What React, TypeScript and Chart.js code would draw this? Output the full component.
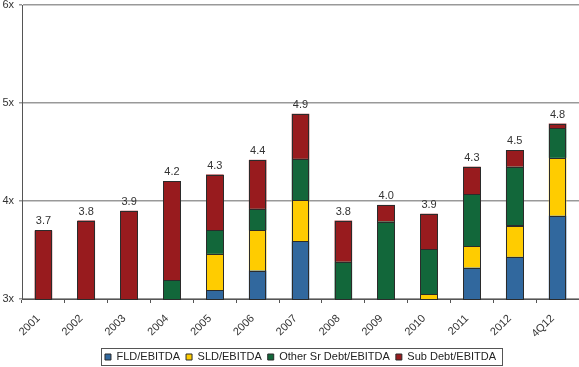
import React, { useEffect, useRef } from 'react';
import { Chart, registerables } from 'chart.js';

Chart.register(...registerables);

const categories = ['2001', '2002', '2003', '2004', '2005', '2006', '2007', '2008', '2009', '2010', '2011', '2012', '4Q12'];
const baseValues = [3, 3, 3, 3, 3, 3, 3, 3, 3, 3, 3, 3, 3];
const fldValues = [null, null, null, null, 0.09, 0.29, 0.59, null, null, null, 0.32, 0.43, 0.85];
const sldValues = [null, null, null, null, 0.37, 0.41, 0.42, null, null, 0.05, 0.22, 0.32, 0.59];
const otherSrValues = [null, null, null, 0.19, 0.24, 0.22, 0.42, 0.38, 0.79, 0.46, 0.53, 0.6, 0.3];
const subDebtValues = [0.7, 0.8, 0.9, 1.01, 0.57, 0.5, 0.46, 0.42, 0.17, 0.36, 0.28, 0.17, 0.05];
const totalLabels = ['3.7', '3.8', '3.9', '4.2', '4.3', '4.4', '4.9', '3.8', '4.0', '3.9', '4.3', '4.5', '4.8'];
const yTickLabels = ['3x', '4x', '5x', '6x'];

const FONT = "'Liberation Sans', Arial, sans-serif";
const OUTLINE = '#2b2b2b';

const legendShift = {
  id: 'legendShift',
  afterLayout(chart: any) {
    const lg = chart.legend;
    if (lg) {
      lg.top += 5.5;
      lg.bottom += 5.5;
    }
  },
};

const legendBorder = {
  id: 'legendBorder',
  afterDraw(chart: any) {
    const lg = chart.legend;
    if (!lg || !lg.legendHitBoxes || !lg.legendHitBoxes.length) return;
    const hb = lg.legendHitBoxes;
    const first = hb[0];
    const last = hb[hb.length - 1];
    const pad = lg.options.labels.padding;
    const cy = lg.top + pad + 5.5;
    const x0 = Math.round(first.left - 4) + 0.5;
    const x1 = Math.round(last.left + last.width + 6) + 0.5;
    const y0 = Math.round(cy - 9) + 0.5;
    const y1 = Math.round(cy + 8) + 0.5;
    const ctx = chart.ctx;
    ctx.save();
    ctx.strokeStyle = '#555';
    ctx.lineWidth = 1;
    ctx.strokeRect(x0, y0, x1 - x0, y1 - y0);
    ctx.restore();
  },
};

const outlines = {
  id: 'outlines',
  afterDatasetsDraw(chart: any) {
    const ctx = chart.ctx;
    const area = chart.chartArea;
    ctx.save();
    ctx.beginPath();
    ctx.rect(area.left, area.top - 2, area.right - area.left, area.bottom - area.top + 3);
    ctx.clip();
    ctx.strokeStyle = OUTLINE;
    ctx.lineWidth = 1;
    for (let d = 1; d < chart.data.datasets.length; d++) {
      const meta = chart.getDatasetMeta(d);
      meta.data.forEach((el: any, j: number) => {
        const v = chart.data.datasets[d].data[j];
        if (v === null || v === undefined) return;
        const l = Math.round(el.x - el.width / 2) + 0.5;
        const r = Math.round(el.x + el.width / 2) - 0.5;
        const t = Math.round(Math.min(el.y, el.base)) + 0.5;
        const b = Math.round(Math.max(el.y, el.base)) + 0.5;
        ctx.strokeRect(l, t, r - l, b - t);
      });
    }
    ctx.restore();
  },
};

const totals = {
  id: 'totals',
  afterDatasetsDraw(chart: any) {
    const ctx = chart.ctx;
    ctx.save();
    ctx.font = `11px ${FONT}`;
    ctx.fillStyle = '#333';
    ctx.textAlign = 'center';
    ctx.textBaseline = 'alphabetic';
    categories.forEach((_, j) => {
      let top = Infinity;
      let x = 0;
      for (let d = 1; d < chart.data.datasets.length; d++) {
        const v = chart.data.datasets[d].data[j];
        if (v === null || v === undefined) continue;
        const el = chart.getDatasetMeta(d).data[j];
        if (el && el.y < top) {
          top = el.y;
          x = el.x;
        }
      }
      if (top !== Infinity) ctx.fillText(totalLabels[j], x, top - 6);
    });
    ctx.restore();
  },
};

export default function App() {
  const ref = useRef<HTMLCanvasElement>(null);
  useEffect(() => {
    const canvas = ref.current!;
    const chart = new Chart(canvas, {
      type: 'bar',
      data: {
        labels: categories,
        datasets: [
          { label: 'base', data: baseValues, backgroundColor: 'rgba(0,0,0,0)' },
          { label: 'FLD/EBITDA', data: fldValues as any, backgroundColor: '#31689E' },
          { label: 'SLD/EBITDA', data: sldValues as any, backgroundColor: '#FFCC00' },
          { label: 'Other Sr Debt/EBITDA', data: otherSrValues as any, backgroundColor: '#12673A' },
          { label: 'Sub Debt/EBITDA', data: subDebtValues as any, backgroundColor: '#981B1E' },
        ],
      },
      options: {
        responsive: false,
        animation: false,
        devicePixelRatio: 1,
        layout: { padding: { top: 5, right: 0, bottom: 0, left: 0 } },
        datasets: {
          bar: {
            barPercentage: 0.41,
            categoryPercentage: 1,
            borderWidth: 0,
            inflateAmount: 0,
          } as any,
        },
        scales: {
          x: {
            stacked: true,
            grid: { offset: true, drawOnChartArea: false, drawTicks: true, tickLength: 4, color: '#555' },
            border: { color: '#555', width: 1 },
            ticks: {
              autoSkip: false,
              maxRotation: 45,
              minRotation: 45,
              font: { family: FONT, size: 11 },
              color: '#333',
              padding: 9,
              labelOffset: -5,
            },
            afterFit: (s: any) => {
              s.height = 41;
              s.paddingLeft = 0;
              s.paddingRight = 0;
            },
          } as any,
          y: {
            stacked: true,
            min: 3,
            max: 6,
            ticks: {
              stepSize: 1,
              callback: (_v: any, i: number) => yTickLabels[i],
              font: { family: FONT, size: 11 },
              color: '#333',
              padding: 5,
            },
            grid: { color: '#999', lineWidth: 1.5, tickLength: 3 },
            border: { color: '#555', width: 1 },
            afterFit: (s: any) => {
              s.width = 22;
              s.paddingTop = 0;
              s.paddingBottom = 0;
            },
          } as any,
        },
        plugins: {
          legend: {
            position: 'bottom',
            fullSize: false,
            labels: {
              boxWidth: 6,
              boxHeight: 6,
              padding: 6,
              font: { family: FONT, size: 11 },
              color: '#222',
              filter: (item: any) => item.datasetIndex !== 0,
              generateLabels: (c: any) =>
                Chart.defaults.plugins.legend.labels.generateLabels(c).map((it: any) => ({
                  ...it,
                  lineWidth: 1,
                  strokeStyle: OUTLINE,
                })),
            },
          } as any,
          tooltip: { enabled: false },
        },
      },
      plugins: [legendShift, outlines, totals, legendBorder],
    });
    return () => chart.destroy();
  }, []);
  return (
    <div style={{ position: 'absolute', left: 0, top: 0, width: 579, height: 367, background: '#fff' }}>
      <canvas ref={ref} width={579} height={367} />
    </div>
  );
}
